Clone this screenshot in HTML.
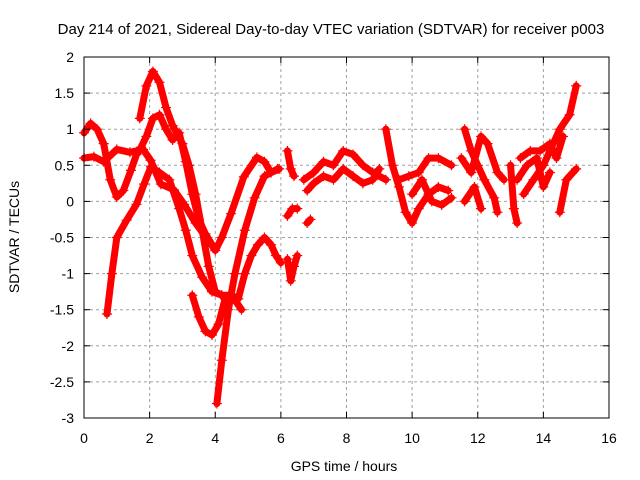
<!DOCTYPE html>
<html><head><meta charset="utf-8"><style>
body{margin:0;background:#fff;}
svg{display:block;font-family:"Liberation Sans",sans-serif;}
</style></head><body>
<svg id="chart" width="640" height="480" xmlns="http://www.w3.org/2000/svg">
<rect width="640" height="480" fill="#fff"/>
<g id="grid"></g>
<g id="series"></g>
<rect x="84" y="57" width="525" height="361" fill="none" stroke="#000" stroke-width="1"/>
<g id="axes"></g>
<text x="331" y="34" font-size="15" text-anchor="middle">Day 214 of 2021, Sidereal Day-to-day VTEC variation (SDTVAR) for receiver p003</text>
<text x="344" y="471" font-size="14" text-anchor="middle">GPS time / hours</text>
<text transform="translate(19,237) rotate(-90)" font-size="14" text-anchor="middle">SDTVAR / TECUs</text>
</svg>
<script>
const xTicks=[0,2,4,6,8,10,12,14,16];
const yTicks=[2,1.5,1,0.5,0,-0.5,-1,-1.5,-2,-2.5,-3];
const track1=[[0,0.95],[0.2,1.08],[0.4,1.0],[0.6,0.8],[0.8,0.3],[1.0,0.06],[1.2,0.15],[1.43,0.43],[1.6,0.65],[1.74,0.75],[1.9,0.9],[2.1,1.15],[2.3,1.2],[2.5,1.0],[2.7,0.85],[2.9,0.95],[3.1,0.55],[3.3,0.1],[3.5,-0.25],[3.7,-0.45],[3.9,-0.6],[4.0,-0.65]];
const track2=[[0,0.6],[0.3,0.62],[0.6,0.55],[1.0,0.72],[1.4,0.68],[1.8,0.72],[2.03,0.57],[2.34,0.24],[2.74,0.16],[3.05,-0.04],[3.4,-0.3],[3.87,-0.59],[4.0,-0.68],[4.2,-0.5],[4.48,-0.17],[4.87,0.34],[5.27,0.61],[5.5,0.55],[5.7,0.4],[5.95,0.45]];
const track3=[[0.7,-1.56],[0.85,-1.0],[1.0,-0.5],[1.3,-0.26],[1.6,-0.04],[1.83,0.24],[2.04,0.48],[2.3,0.4],[2.6,0.3],[2.9,-0.1],[3.1,-0.4],[3.3,-0.75],[3.6,-1.05],[3.9,-1.25],[4.2,-1.3],[4.5,-1.3],[4.8,-1.5]];
const track4=[[1.7,1.15],[1.9,1.6],[2.1,1.8],[2.3,1.65],[2.5,1.3],[2.7,1.05],[3.0,0.8],[3.2,0.5],[3.4,0.1],[3.6,-0.4],[3.8,-0.9],[4.0,-1.25],[4.2,-1.3]];
const track5=[[4.05,-2.8],[4.2,-2.2],[4.4,-1.5],[4.6,-1.0],[4.9,-0.4],[5.2,0.05],[5.5,0.35],[5.7,0.4],[5.9,0.45]];
const track6=[[3.3,-1.3],[3.5,-1.6],[3.7,-1.8],[3.9,-1.85],[4.1,-1.7],[4.3,-1.35],[4.5,-1.3],[4.7,-1.35],[4.9,-1.0],[5.1,-0.75],[5.3,-0.6],[5.5,-0.5],[5.7,-0.6],[5.85,-0.75],[6.0,-0.85]];
const track7=[[6.2,0.7],[6.3,0.45],[6.4,0.35]];
const track8=[[6.2,-0.8],[6.3,-1.1],[6.4,-0.9],[6.5,-0.75]];
const track9=[[6.2,-0.2],[6.35,-0.1],[6.5,-0.1]];
const track10=[[6.8,-0.3],[6.9,-0.25]];
const track11=[[6.7,0.3],[7.0,0.4],[7.3,0.55],[7.6,0.5],[7.9,0.7],[8.2,0.65],[8.5,0.5],[8.8,0.4],[9.2,0.3]];
const track12=[[6.8,0.15],[7.0,0.25],[7.3,0.35],[7.6,0.3],[7.9,0.45],[8.2,0.35],[8.5,0.25],[8.8,0.3],[9.0,0.45]];
const track13=[[9.2,1.0],[9.4,0.5],[9.6,0.2],[9.8,-0.15],[10.0,-0.3],[10.2,-0.1],[10.5,0.1],[10.8,0.2],[11.1,0.15]];
const track14=[[9.6,0.3],[9.9,0.35],[10.2,0.4],[10.5,0.6],[10.8,0.6],[11.2,0.5]];
const track15=[[10.0,0.1],[10.3,0.3],[10.6,0.0],[10.9,-0.05],[11.2,0.05]];
const track16=[[11.6,1.0],[11.8,0.7],[12.0,0.5],[12.2,0.3],[12.5,0.05],[12.6,-0.15]];
const track17=[[11.5,0.6],[11.8,0.4],[12.1,0.9],[12.3,0.8],[12.6,0.4],[12.8,0.3]];
const track18=[[11.6,0.0],[11.9,0.2],[12.1,-0.1]];
const track19=[[13.0,0.5],[13.1,-0.1],[13.2,-0.3]];
const track20=[[13.2,0.3],[13.5,0.5],[13.8,0.6],[14.0,0.2],[14.2,0.4]];
const track21=[[13.4,0.1],[13.7,0.3],[14.0,0.5],[14.3,0.8],[14.5,1.0],[14.8,1.2],[15.0,1.6]];
const track22=[[13.3,0.6],[13.6,0.7],[13.9,0.7],[14.2,0.8],[14.4,0.6],[14.6,0.9]];
const track23=[[14.5,-0.15],[14.7,0.3],[15.0,0.45]];
const tracks=[track1,track2,track3,track4,track5,track6,track7,track8,track9,track10,track11,track12,track13,track14,track15,track16,track17,track18,track19,track20,track21,track22,track23];
const NS="http://www.w3.org/2000/svg";
const X0=84,X1=609,Y0=418,Y1=57;
const xs=t=>X0+(t-0)/16*(X1-X0);
const ys=v=>Y0-(v+3)/5*(Y0-Y1);
const grid=document.getElementById('grid'),axes=document.getElementById('axes'),ser=document.getElementById('series');
function mk(tag,at,parent){const e=document.createElementNS(NS,tag);for(const k in at)e.setAttribute(k,at[k]);parent.appendChild(e);return e;}
xTicks.forEach(t=>{const x=xs(t);
 if(t>0&&t<16){const g=mk('line',{x1:x,x2:x,y1:Y1,y2:Y0,stroke:'#a0a0a0','stroke-dasharray':'3,3'},grid);
 
 }
 mk('line',{x1:x,x2:x,y1:Y0,y2:Y0-6,stroke:'#000'},axes);mk('line',{x1:x,x2:x,y1:Y1,y2:Y1+6,stroke:'#000'},axes);
 const tx=mk('text',{x:x,y:443,'font-size':14,'text-anchor':'middle'},axes);tx.textContent=t;
 
 });
yTicks.forEach(v=>{const y=ys(v);
 if(v>-3&&v<2){const g=mk('line',{x1:X0,x2:X1,y1:y,y2:y,stroke:'#a0a0a0','stroke-dasharray':'3,3'},grid);
 
 }
 mk('line',{x1:X0,x2:X0+6,y1:y,y2:y,stroke:'#000'},axes);mk('line',{x1:X1,x2:X1-6,y1:y,y2:y,stroke:'#000'},axes);
 const tx=mk('text',{x:74,y:y+5,'font-size':14,'text-anchor':'end'},axes);tx.textContent=v;
 
 });
tracks.forEach((tr,i)=>{
 const g=mk('g',{},ser);
 
 
 mk('polyline',{points:tr.map(p=>xs(p[0])+','+ys(p[1])).join(' '),fill:'none',stroke:'#f00','stroke-width':7,'stroke-linejoin':'round','stroke-linecap':'round'},g);
 tr.forEach(p=>{const x=xs(p[0]),y=ys(p[1]);
  mk('path',{d:`M${x-5},${y}H${x+5}M${x},${y-5}V${y+5}`,stroke:'#f00','stroke-width':1.2},g);});
});
</script>
</body></html>
